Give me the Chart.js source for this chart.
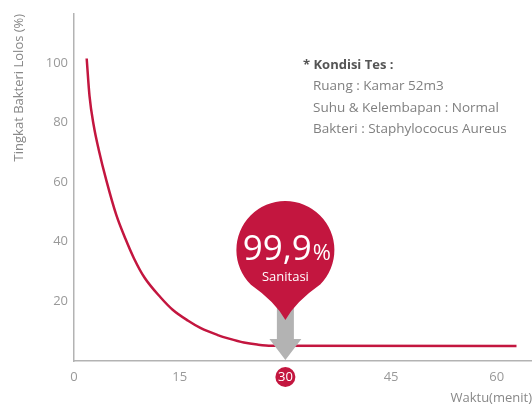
<!DOCTYPE html>
<html>
<head>
<meta charset="utf-8">
<script src="https://cdn.jsdelivr.net/npm/chart.js@4"></script>
<style>
  html, body { margin: 0; padding: 0; background: #fff; }
  #wrap { width: 532px; height: 406px; position: relative; }
</style>
</head>
<body>
<div id="wrap"><canvas id="myChart"></canvas></div>
<script>
// waktu (menit) vs tingkat bakteri lolos (%)
const times = [1.8, 2.2, 2.8, 3.5, 4.6, 6, 7.3, 8.5, 10, 12.3, 14, 16.2, 18, 20.4, 22, 24.1, 26, 28, 62.8];
const survival = [101.5, 89, 79, 71, 60.5, 49, 41, 34.5, 28, 21.3, 17.2, 13.5, 11, 8.7, 7.5, 6.2, 5.5, 5.1, 5];
const xTicks = [0, 15, 30, 45, 60];
const yTicks = [20, 40, 60, 80, 100];
const highlightTime = 30;
const badgeBig = '99,9';
const badgeSmall = 'Sanitasi';
const condTitle = '* Kondisi Tes :';
const conditions = ['Ruang : Kamar 52m3', 'Suhu & Kelembapan : Normal', 'Bakteri : Staphylococus Aureus'];

const RED = '#c3163f';
const GREY = '#b3b3b3';
const FONT = '"Open Sans", "Noto Sans", sans-serif';

const decor = {
  id: 'decor',
  beforeDraw(chart) {
    const {ctx, scales: {x}} = chart;
    const cx = x.getPixelForValue(highlightTime);
    ctx.save();
    ctx.fillStyle = RED;
    ctx.beginPath();
    ctx.arc(cx, x.top + 16, 10, 0, Math.PI * 2);
    ctx.fill();
    ctx.restore();
  },
  afterDatasetsDraw(chart) {
    const {ctx, scales: {x, y}} = chart;
    const cx = x.getPixelForValue(highlightTime);
    const base = y.getPixelForValue(0);
    ctx.save();
    // grey arrow
    ctx.fillStyle = GREY;
    ctx.beginPath();
    ctx.moveTo(cx - 8.5, base - 55);
    ctx.lineTo(cx + 8.5, base - 55);
    ctx.lineTo(cx + 8.5, base - 22);
    ctx.lineTo(cx + 16, base - 22);
    ctx.lineTo(cx, base - 1);
    ctx.lineTo(cx - 16, base - 22);
    ctx.lineTo(cx - 8.5, base - 22);
    ctx.closePath();
    ctx.fill();

    // red pin
    const r = 49, cy = base - 111, tipY = base - 41, phi = 0.78;
    const a1 = Math.PI / 2 + phi, a2 = Math.PI / 2 - phi;
    ctx.fillStyle = RED;
    ctx.beginPath();
    ctx.arc(cx, cy, r, a1, a2 + Math.PI * 2, false);
    const ry = cy + r * Math.sin(a2);
    ctx.quadraticCurveTo(cx + 10, tipY - 18, cx, tipY);
    ctx.quadraticCurveTo(cx - 10, tipY - 18, cx - r * Math.cos(a2), ry);
    ctx.closePath();
    ctx.fill();

    ctx.fillStyle = '#fff';
    ctx.textBaseline = 'alphabetic';
    ctx.font = '35px ' + FONT;
    const w1 = ctx.measureText(badgeBig).width;
    ctx.font = '22px ' + FONT;
    const w2 = ctx.measureText('%').width;
    const sx = cx + 1 - (w1 + w2) / 2;
    ctx.font = '35px ' + FONT;
    ctx.textAlign = 'left';
    ctx.fillText(badgeBig, sx, cy + 10);
    ctx.font = '22px ' + FONT;
    ctx.fillText('%', sx + w1 + 1, cy + 10);
    ctx.font = '13px ' + FONT;
    ctx.textAlign = 'center';
    ctx.textBaseline = 'middle';
    ctx.fillText(badgeSmall, cx, cy + 27);
    ctx.restore();
  },
  afterDraw(chart) {
    const {ctx, chartArea} = chart;
    const lx = chartArea.left + 229, ly = chartArea.top + 51;
    ctx.save();
    ctx.textBaseline = 'middle';
    ctx.textAlign = 'left';
    ctx.fillStyle = '#555';
    ctx.font = 'bold 13px ' + FONT;
    ctx.fillText(condTitle, lx, ly);
    ctx.fillStyle = '#808080';
    ctx.font = '13.5px ' + FONT;
    conditions.forEach((t, i) => ctx.fillText(t, lx + 10, ly + 21.5 * (i + 1)));
    ctx.restore();
  }
};

const data = {
  datasets: [{
    label: 'Tingkat Bakteri Lolos',
    data: times.map((t, i) => ({x: t, y: survival[i]})),
    borderColor: RED,
    borderWidth: 2.5,
    pointRadius: 0,
    cubicInterpolationMode: 'monotone',
    fill: false
  }]
};

const config = {
  type: 'line',
  data: data,
  plugins: [decor],
  options: {
    responsive: true,
    maintainAspectRatio: false,
    animation: false,
    layout: { padding: { top: 12, right: 0, left: 0, bottom: 0 } },
    plugins: { legend: { display: false }, tooltip: { enabled: false } },
    scales: {
      x: {
        type: 'linear',
        min: 0,
        max: 65,
        afterFit: s => { s.height = 45; },
        afterBuildTicks: s => { s.ticks = xTicks.map(v => ({value: v})); },
        grid: { display: false, drawTicks: false },
        border: { display: true, color: GREY, width: 1.5 },
        ticks: {
          autoSkip: false,
          maxRotation: 0,
          padding: 8,
          font: { size: 13, family: FONT },
          color: c => c.tick.value === highlightTime ? '#fff' : '#999'
        },
        title: {
          display: true,
          text: 'Waktu(menit)',
          align: 'end',
          color: '#888',
          font: { size: 13, family: FONT },
          padding: { top: 0, bottom: 0 }
        }
      },
      y: {
        min: 0,
        max: 116.5,
        afterFit: s => { s.width = 74; },
        afterBuildTicks: s => { s.ticks = yTicks.map(v => ({value: v})); },
        grid: { display: false, drawTicks: false },
        border: { display: true, color: GREY, width: 1.5 },
        ticks: {
          padding: 6,
          font: { size: 13, family: FONT },
          color: '#999'
        },
        title: {
          display: true,
          text: 'Tingkat Bakteri Lolos (%)',
          align: 'end',
          color: '#888',
          font: { size: 13, family: FONT },
          padding: { top: 11, bottom: 0 }
        }
      }
    }
  }
};

var myChart = new Chart(document.getElementById('myChart'), config);
</script>
</body>
</html>
